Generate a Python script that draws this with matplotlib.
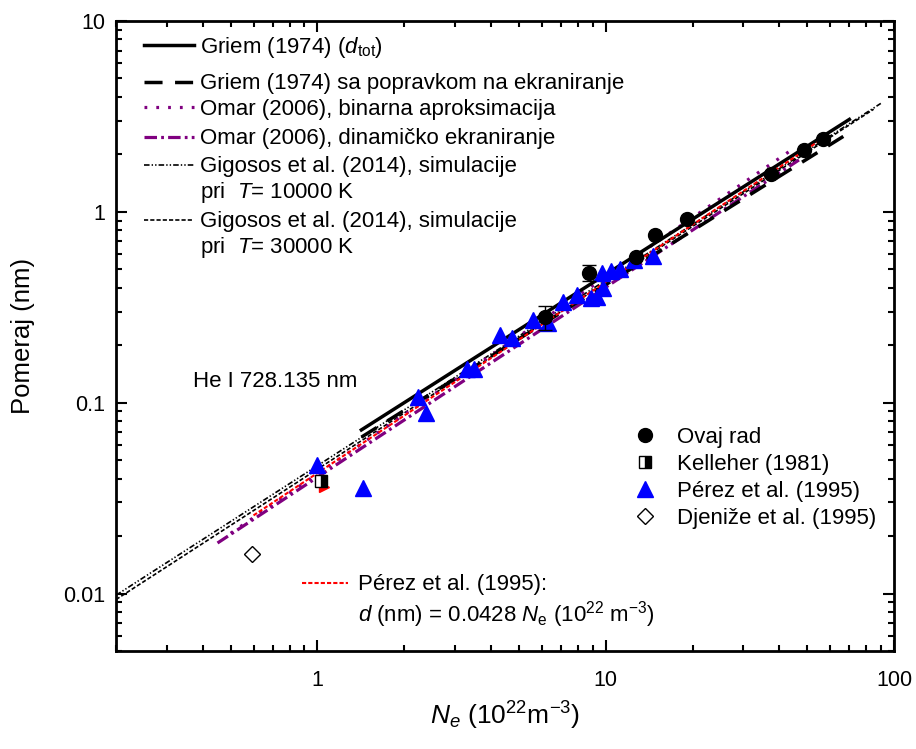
import matplotlib
matplotlib.use("Agg")
import matplotlib.pyplot as plt

plt.rcParams['font.family'] = ['Liberation Sans', 'DejaVu Sans']
plt.rcParams['mathtext.fontset'] = 'custom'
plt.rcParams['mathtext.rm'] = 'Liberation Sans'
plt.rcParams['mathtext.it'] = 'Liberation Sans:italic'
plt.rcParams['lines.scale_dashes'] = False

ovaj_ne = [6.16, 8.77, 12.7, 14.8, 19.2, 37.3, 48.6, 56.6]
ovaj_d = [0.28, 0.48, 0.58, 0.755, 0.917, 1.58, 2.11, 2.41]
ovaj_err = [0.04, 0.045, 0, 0, 0, 0, 0, 0]

kelleher_ne = [1.03]
kelleher_d = [0.039]

perez_ne = [1.0, 1.44, 2.23, 2.37, 3.29, 3.49, 4.30, 4.72, 5.61, 6.33,
            7.13, 7.95, 8.9, 9.3, 9.8, 9.7, 10.4, 11.2, 12.5, 14.6]
perez_d = [0.047, 0.0357, 0.107, 0.0885, 0.151, 0.151, 0.226, 0.218, 0.271, 0.263,
           0.338, 0.366, 0.355, 0.36, 0.40, 0.48, 0.49, 0.50, 0.56, 0.59]

djenize_ne = [0.594]
djenize_d = [0.0161]

red_mark_ne = [1.05]
red_mark_d = [0.036]

# --- theory / fits ---
griem_ne = [1.42, 70.0]
griem_d = [0.072, 3.05]
griem_corr_ne = [1.42, 70.0]
griem_corr_d = [0.066, 2.6]
omar_bin_ne = [0.50, 44.5]
omar_bin_d = [0.0207, 2.13]
omar_dyn_ne = [0.45, 46.8]
omar_dyn_d = [0.0184, 1.87]
gig10_ne = [0.2, 90.0]
gig10_d = [0.0098, 3.7]
gig30_ne = [0.2, 85.0]
gig30_d = [0.0093, 3.45]
perez_fit_ne = [0.6, 55.6]
perez_fit_d = [0.0428 * 0.6, 0.0428 * 55.6]

PURPLE = '#800080'
styles = {
    'griem': dict(color='black', lw=2.5, ls='-'),
    'griem_corr': dict(color='black', lw=2.5, dashes=(13, 9)),
    'omar_bin': dict(color=PURPLE, lw=2.3, dashes=(2, 6.5)),
    'omar_dyn': dict(color=PURPLE, lw=2.3, dashes=(9, 3, 2, 3)),
    'gig10': dict(color='black', lw=1.2, dashes=(4, 1.5, 1, 1.5, 1, 1.5)),
    'gig30': dict(color='black', lw=1.2, dashes=(3, 1.5)),
    'perez_fit': dict(color='red', lw=1.5, dashes=(3, 1.5)),
}

W, H = 916, 749
fig = plt.figure(figsize=(W / 100, H / 100), dpi=100)
L, R, T, B = 116, 894, 21, 651
ax = fig.add_axes([L / W, 1 - B / H, (R - L) / W, (B - T) / H])


def axc(px, py):
    return (px - L) / (R - L), (B - py) / (B - T)


ax.plot(gig10_ne, gig10_d, **styles['gig10'])
ax.plot(gig30_ne, gig30_d, **styles['gig30'])
ax.plot(omar_bin_ne, omar_bin_d, **styles['omar_bin'])
ax.plot(omar_dyn_ne, omar_dyn_d, **styles['omar_dyn'])
ax.plot(griem_corr_ne, griem_corr_d, **styles['griem_corr'])
ax.plot(griem_ne, griem_d, **styles['griem'])
ax.plot(perez_fit_ne, perez_fit_d, **styles['perez_fit'])

ax.plot(red_mark_ne, red_mark_d, ls='none', marker='>', ms=7, color='red')
ax.plot(perez_ne, perez_d, ls='none', marker='^', ms=11, color='blue', mec='blue')
ax.plot(kelleher_ne, kelleher_d, ls='none', marker='s', ms=8, fillstyle='right',
        color='black', mfc='black', mfcalt='white', mec='black', mew=1)
ax.plot(djenize_ne, djenize_d, ls='none', marker='D', ms=8, mfc='white', mec='black', mew=1)
ax.errorbar(ovaj_ne, ovaj_d, yerr=ovaj_err, fmt='o', ms=10, color='black',
            ecolor='black', elinewidth=1, capsize=4.7, capthick=1)

ax.set_xscale('log')
ax.set_yscale('log')
ax.set_xlim(0.2, 100)
ax.set_ylim(0.005, 10)
ax.set_xticks([1, 10, 100])
ax.set_xticklabels(['1', '10', '100'])
ax.set_yticks([0.01, 0.1, 1, 10])
ax.set_yticklabels(['0.01', '0.1', '1', '10'])
ax.tick_params(which='both', direction='in', top=True, right=True, width=1.5, labelsize=15.5)
ax.tick_params(which='major', length=8)
ax.tick_params(which='minor', length=4.5)
ax.tick_params(axis='x', pad=14)
ax.tick_params(axis='y', pad=8)
for s in ax.spines.values():
    s.set_linewidth(2)

ax.set_ylabel('Pomeraj (nm)', fontsize=18.5, labelpad=20)
ax.set_xlabel(r'$N_e$ (10$^{22}$m$^{-3}$)', fontsize=19, labelpad=6)

FS = 16
# upper-left legend (theory)
rows = [
    ('griem', r'Griem (1974) ($d_{\mathrm{tot}}$)', 45, 53),
    ('griem_corr', 'Griem (1974) sa popravkom na ekraniranje', 82, 89),
    ('omar_bin', 'Omar (2006), binarna aproksimacija', 107, 115),
    ('omar_dyn', 'Omar (2006), dinamičko ekraniranje', 137, 144),
    ('gig10', 'Gigosos et al. (2014), simulacije', 165, 172),
    (None, r'pri  $T$= 10000 K', None, 198),
    ('gig30', 'Gigosos et al. (2014), simulacije', 220, 227),
    (None, r'pri  $T$= 30000 K', None, 253),
]
for key, label, hy, by in rows:
    if key is not None:
        x0, y0 = axc(144, hy)
        x1, _ = axc(194, hy)
        ax.plot([x0, x1], [y0, y0], transform=ax.transAxes, **styles[key])
    tx, ty = axc(200, by)
    ax.text(tx, ty, label, transform=ax.transAxes, fontsize=FS, va='baseline', ha='left')

# lower-right legend (experiments)
mk = [
    (dict(marker='o', ms=10, color='black'), 'Ovaj rad', 435),
    (dict(marker='s', ms=8, fillstyle='right', color='black', mfc='black',
          mfcalt='white', mec='black', mew=1), 'Kelleher (1981)', 462),
    (dict(marker='^', ms=11, color='blue'), 'Pérez et al. (1995)', 489),
    (dict(marker='D', ms=8, mfc='white', mec='black', mew=1), 'Djeniže et al. (1995)', 516),
]
for st, label, y in mk:
    mx, my = axc(645, y)
    ax.plot([mx], [my], transform=ax.transAxes, ls='none', **st)
    tx, ty = axc(677, y + 8)
    ax.text(tx, ty, label, transform=ax.transAxes, fontsize=FS, va='baseline', ha='left')

# Perez fit label
x0, y0 = axc(302, 583)
x1, _ = axc(348, 583)
ax.plot([x0, x1], [y0, y0], transform=ax.transAxes, **styles['perez_fit'])
tx, ty = axc(358, 590)
ax.text(tx, ty, 'Pérez et al. (1995):', transform=ax.transAxes, fontsize=FS, va='baseline')
tx, ty = axc(358, 622)
ax.text(tx, ty, r'$d$ (nm) = 0.0428 $N_{\mathrm{e}}$ (10$^{22}$ m$^{-3}$)',
        transform=ax.transAxes, fontsize=FS, va='baseline')

tx, ty = axc(193, 387)
ax.text(tx, ty, 'He I 728.135 nm', transform=ax.transAxes, fontsize=FS, va='baseline')

fig.savefig('out.png', dpi=100)
